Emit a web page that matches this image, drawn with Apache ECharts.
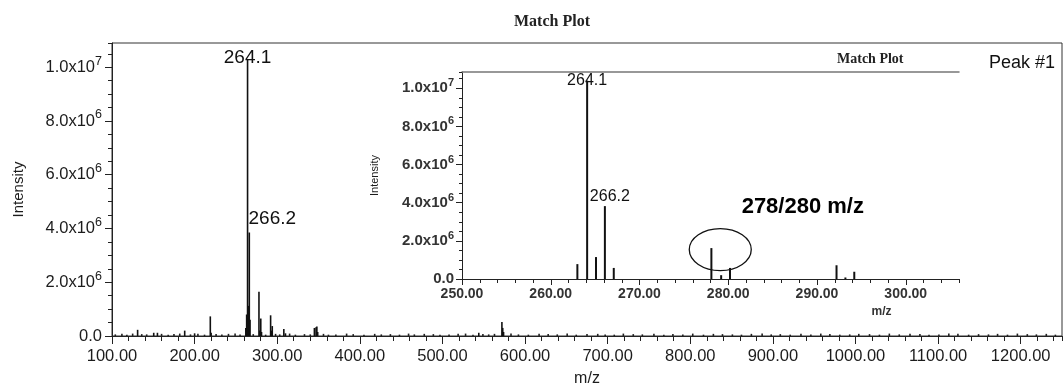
<!DOCTYPE html>
<html><head><meta charset="utf-8">
<script src="https://cdn.jsdelivr.net/npm/echarts@6/dist/echarts.min.js"></script>
<style>html,body{margin:0;padding:0;background:#fff}#c{width:1064px;height:387px}</style>
</head><body><div id="c"></div>
<script>
// ---- DATA ----
const mainMz  = [131.0,150.5,155.0,188.0,200.0,219.0,220.0,262.0,263.0,264.1,265.1,266.2,267.1,277.9,279.0,280.1,281.0,292.0,293.0,294.0,308.0,310.0,345.0,347.0,348.0,349.0,544.0,572.0,573.0,574.0];
const mainInt = [0.23e6,0.12e6,0.12e6,0.20e6,0.10e6,0.73e6,0.12e6,0.30e6,0.80e6,1.03e7,1.12e6,3.85e6,0.60e6,1.65e6,0.20e6,0.65e6,0.15e6,0.77e6,0.20e6,0.37e6,0.26e6,0.10e6,0.30e6,0.33e6,0.35e6,0.15e6,0.12e6,0.52e6,0.30e6,0.15e6];
const noiseMz  = [104,112,118,125,136,142,160,168,175,182,195,204,212,226,233,241,249,255,271,286,298,303,315,322,333,340,356,362,371,384,392,405,418,426,437,448,459,466,478,489,497,508,519,528,537,549,556,563,583,592,604,617,628,639,651,662,675,688,697,708,719,731,742,756,768,779,791,803,816,828,839,851,862,874,887,898,909,921,934,946,958,969,981,993,1004,1017,1029,1041,1053,1066,1078,1089,1101,1113,1124,1137,1149,1161,1172,1184,1196,1208,1219,1231,1242];
const noiseInt = [6e4,8e4,5e4,9e4,7e4,6e4,8e4,5e4,7e4,9e4,6e4,8e4,5e4,7e4,6e4,8e4,9e4,6e4,7e4,5e4,8e4,6e4,9e4,5e4,7e4,6e4,8e4,5e4,6e4,9e4,7e4,5e4,8e4,6e4,7e4,5e4,9e4,6e4,8e4,7e4,5e4,6e4,8e4,9e4,5e4,7e4,6e4,8e4,9e4,6e4,5e4,8e4,7e4,6e4,9e4,5e4,7e4,8e4,6e4,5e4,9e4,7e4,6e4,8e4,5e4,7e4,6e4,9e4,5e4,8e4,7e4,6e4,5e4,8e4,9e4,6e4,7e4,5e4,8e4,6e4,9e4,7e4,5e4,6e4,8e4,7e4,5e4,9e4,6e4,8e4,7e4,5e4,6e4,9e4,8e4,5e4,7e4,6e4,8e4,5e4,9e4,7e4,6e4,8e4,5e4];
const mainLabels = [[264.1,'264.1'],[266.2,'266.2']];

const insetMz  = [263.0,264.1,265.1,266.1,267.1,278.1,279.2,280.2,292.2,293.2,294.2];
const insetInt = [0.78e6,1.04e7,1.15e6,3.82e6,0.58e6,1.62e6,0.20e6,0.58e6,0.72e6,0.08e6,0.38e6];
const insetLabels = [[264.1,'264.1'],[266.1,'266.2']];

const mainXTicks = {min:100, max:1250, major:100, minor:20};
const mainYTicks = {min:0, max:1.09e7, major:2e6, minor:5e5};
const insetXTicks = {min:250, max:306, major:10, minor:2};
const insetYTicks = {min:0, max:1.085e7, major:2e6, minor:5e5};

const annotation = {text:'278/280 m/z', textAt:[288.4,3.77e6], circleAt:[279.1,1.54e6]};

// ---- CHART ----
function sci(v){
  if (v === 0) return '0.0';
  const e = Math.floor(Math.log10(v) + 1e-9);
  const m = v / Math.pow(10, e);
  return m.toFixed(1) + 'x10{sup|' + e + '}';
}
const TXT = '#1c1c1c';
function buildData(mz, ints, labels, styleFn){
  return mz.map((x,i)=>{
    const lab = labels.find(l=>l[0]===x);
    const d = {value:[x, ints[i]]};
    if (lab) d.label = Object.assign({show:true, formatter:lab[1]}, styleFn(lab[0]));
    return d;
  });
}
const mainData = buildData(mainMz, mainInt, mainLabels, x => x===264.1
  ? {position:'top', distance:-8, fontSize:19, color:'#111', fontFamily:'Liberation Sans'}
  : {position:'top', distance:4, offset:[23,0], fontSize:19, color:'#111', fontFamily:'Liberation Sans'});
const noiseData = noiseMz.map((x,i)=>[x, noiseInt[i]]);
const insetData = buildData(insetMz, insetInt, insetLabels, x => x===264.1
  ? {position:'top', distance:-8, fontSize:16, color:'#111', fontFamily:'Liberation Sans'}
  : {position:'top', distance:2, offset:[5,0], fontSize:16, color:'#111', fontFamily:'Liberation Sans'});

const chart = echarts.init(document.getElementById('c'), null, {renderer:'canvas'});
const axisLineBlack = {show:true, lineStyle:{color:'#222', width:1}};
const mainLabelFont = {fontSize:16.5, color:TXT, fontFamily:'Liberation Sans'};
const insetXLabelFont = {fontSize:14, fontWeight:'bold', color:'#333', fontFamily:'Liberation Sans'};
const insetYLabelFont = {fontSize:15, fontWeight:'bold', color:'#333', fontFamily:'Liberation Sans'};

chart.setOption({
  animation:false,
  backgroundColor:'#fff',
  title:[
    {text:'Match Plot', left:509, top:9, textStyle:{fontFamily:'Liberation Serif', fontWeight:'bold', fontSize:16, color:'#222'}},
    {text:'Match Plot', left:832, top:47, textStyle:{fontFamily:'Liberation Serif', fontWeight:'bold', fontSize:14, color:'#222'}},
    {text:'Peak #1', left:984, top:49, textStyle:{fontFamily:'Liberation Sans', fontWeight:'normal', fontSize:18, color:'#111'}}
  ],
  grid:[
    {left:112, right:2, top:43, bottom:51, outerBoundsMode:'none', containLabel:false, show:true, borderColor:'#333', borderWidth:1, backgroundColor:'transparent'},
    {left:462, right:105, top:72, bottom:108, outerBoundsMode:'none', containLabel:false, show:false}
  ],
  xAxis:[
    {type:'value', gridIndex:0, position:'bottom', min:mainXTicks.min, max:mainXTicks.max, interval:mainXTicks.major,
     axisLine:axisLineBlack, axisTick:{show:true, length:8, lineStyle:{color:'#222'}},
     axisLabel:Object.assign({margin:12, showMaxLabel:false, formatter:v=>v.toFixed(2)}, mainLabelFont),
     splitLine:{show:false}, name:'m/z', nameLocation:'middle', nameGap:35,
     nameTextStyle:{fontSize:16, color:TXT, fontFamily:'Liberation Sans'}},
    {type:'value', gridIndex:0, position:'bottom', min:mainXTicks.min, max:mainXTicks.max, interval:mainXTicks.minor,
     axisLine:{show:false}, axisTick:{show:true, length:5, lineStyle:{color:'#222'}},
     axisLabel:{show:false}, splitLine:{show:false}},
    {type:'value', gridIndex:1, position:'bottom', min:insetXTicks.min, max:insetXTicks.max, interval:insetXTicks.major,
     axisLine:axisLineBlack, axisTick:{show:true, length:6, lineStyle:{color:'#222'}},
     axisLabel:Object.assign({margin:8, showMaxLabel:false, formatter:v=>v.toFixed(2)}, insetXLabelFont),
     splitLine:{show:false}, name:'m/z', nameLocation:'middle', nameGap:24,
     nameTextStyle:{fontSize:12, fontWeight:'bold', color:'#333', fontFamily:'Liberation Sans', padding:[0,0,0,342]}},
    {type:'value', gridIndex:1, position:'bottom', min:insetXTicks.min, max:insetXTicks.max, interval:insetXTicks.minor,
     axisLine:{show:false}, axisTick:{show:true, length:4, lineStyle:{color:'#222'}},
     axisLabel:{show:false}, splitLine:{show:false}},
    {type:'value', gridIndex:1, position:'top', min:insetXTicks.min, max:insetXTicks.max,
     axisLine:{show:true, lineStyle:{color:'#777', width:1.5}}, axisTick:{show:false},
     axisLabel:{show:false}, splitLine:{show:false}}
  ],
  yAxis:[
    {type:'value', gridIndex:0, position:'left', min:mainYTicks.min, max:mainYTicks.max, interval:mainYTicks.major,
     axisLine:axisLineBlack, axisTick:{show:true, length:7, lineStyle:{color:'#222'}},
     axisLabel:Object.assign({margin:10, showMaxLabel:false, formatter:sci,
        rich:{sup:{fontSize:12.5, color:TXT, fontFamily:'Liberation Sans', padding:[0,0,12,0]}}}, mainLabelFont),
     splitLine:{show:false}, name:'Intensity', nameLocation:'middle', nameGap:86,
     nameTextStyle:{fontSize:15, color:TXT, fontFamily:'Liberation Sans'}},
    {type:'value', gridIndex:0, position:'left', min:mainYTicks.min, max:mainYTicks.max, interval:mainYTicks.minor,
     axisLine:{show:false}, axisTick:{show:true, length:4, lineStyle:{color:'#222'}},
     axisLabel:{show:false}, splitLine:{show:false}},
    {type:'value', gridIndex:1, position:'left', min:insetYTicks.min, max:insetYTicks.max, interval:insetYTicks.major,
     axisLine:axisLineBlack, axisTick:{show:true, length:6, lineStyle:{color:'#222'}},
     axisLabel:Object.assign({margin:8, showMaxLabel:false, formatter:sci,
        rich:{sup:{fontSize:11, fontWeight:'bold', color:'#333', fontFamily:'Liberation Sans', padding:[0,0,10,0]}}}, insetYLabelFont),
     splitLine:{show:false}, name:'Intensity', nameLocation:'middle', nameGap:82,
     nameTextStyle:{fontSize:11, color:TXT, fontFamily:'Liberation Sans'}},
    {type:'value', gridIndex:1, position:'left', min:insetYTicks.min, max:insetYTicks.max, interval:insetYTicks.minor,
     axisLine:{show:false}, axisTick:{show:true, length:3, lineStyle:{color:'#222'}},
     axisLabel:{show:false}, splitLine:{show:false}}
  ],
  series:[
    {type:'bar', xAxisIndex:0, yAxisIndex:0, barWidth:1.6, barGap:'-100%', data:noiseData, itemStyle:{color:'#222'}, silent:true},
    {type:'bar', xAxisIndex:0, yAxisIndex:0, barWidth:1.6, barGap:'-100%', data:mainData, itemStyle:{color:'#111'}, silent:true},
    {type:'bar', xAxisIndex:2, yAxisIndex:2, barWidth:2, barGap:'-100%', data:insetData, itemStyle:{color:'#111'}, silent:true}
  ]
});

const tp = chart.convertToPixel({xAxisIndex:2, yAxisIndex:2}, annotation.textAt);
const cp = chart.convertToPixel({xAxisIndex:2, yAxisIndex:2}, annotation.circleAt);
chart.setOption({
  graphic:[
    {type:'ellipse', shape:{cx:cp[0], cy:cp[1], rx:31, ry:21}, style:{fill:'none', stroke:'#111', lineWidth:1.3}, z:100},
    {type:'text', x:tp[0], y:tp[1], style:{text:annotation.text, fontSize:22, fontWeight:'bold', fontFamily:'Liberation Sans', fill:'#000', align:'center', verticalAlign:'middle'}, z:100}
  ]
});
</script></body></html>
